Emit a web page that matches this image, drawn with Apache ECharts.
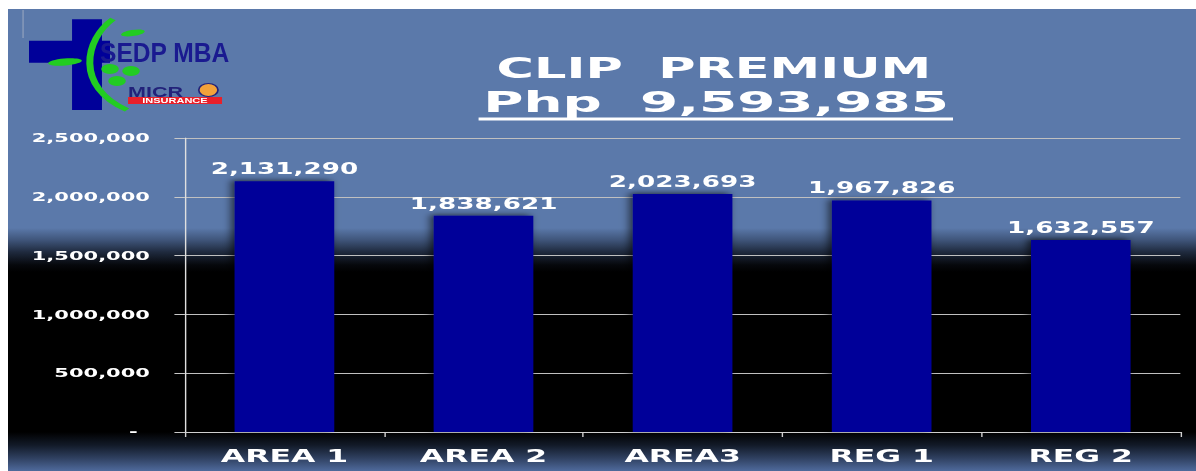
<!DOCTYPE html>
<html><head><meta charset="utf-8">
<script src="https://cdn.jsdelivr.net/npm/echarts@6/dist/echarts.min.js"></script>
<style>
html,body{margin:0;padding:0;background:#fff;overflow:hidden;width:1196px;height:471px}
#c{position:absolute;left:8px;top:9px;width:678.857px;height:462px;transform:scaleX(1.75);transform-origin:0 0;}
</style></head><body><div id="c"></div>
<script>
const categories = ['AREA 1', 'AREA 2', 'AREA3', 'REG 1', 'REG 2'];
const premiums = [2131290, 1838621, 2023693, 1967826, 1632557];
const yMin = 0, yMax = 2500000, yStep = 500000;
const titleLine1 = 'CLIP  PREMIUM';
const titleLine2 = 'Php  9,593,985';

const fmt = v => Number(v).toLocaleString('en-US');
const FONT = 'DejaVu Sans';
const chart = echarts.init(document.getElementById('c'), null, {renderer: 'svg'});

chart.setOption({
  animation: false,
  backgroundColor: {
    type: 'linear', x: 0, y: 0, x2: 0, y2: 1,
    colorStops: [
      {offset: 0, color: '#5b79aa'},
      {offset: 0.474, color: '#5b79aa'},
      {offset: 0.5, color: '#3f557a'},
      {offset: 0.526, color: '#1f2a3e'},
      {offset: 0.554, color: '#06080c'},
      {offset: 0.569, color: '#000000'},
      {offset: 0.9156, color: '#000000'},
      {offset: 0.944, color: '#121a28'},
      {offset: 0.972, color: '#2f4060'},
      {offset: 1, color: '#4f6a9c'}
    ]
  },
  grid: {left: 101.1, right: 9.1, top: 129, bottom: 39, containLabel: false},
  xAxis: {
    type: 'category',
    data: categories,
    axisLine: {show: true, lineStyle: {color: '#d0d0d0', width: 1}},
    axisTick: {show: true, length: 5, alignWithLabel: false, lineStyle: {color: '#d0d0d0', width: 0.8}},
    axisLabel: {color: '#ffffff', fontFamily: FONT, fontWeight: 'bold', fontSize: 18, margin: 15}
  },
  yAxis: {
    type: 'value',
    min: yMin, max: yMax, interval: yStep,
    axisLine: {show: true, lineStyle: {color: '#e0e0e0', width: 0.8}},
    axisTick: {show: true, length: 6, lineStyle: {color: '#c8c8c8', width: 1}},
    splitLine: {show: true, lineStyle: {color: '#c0c0c0', width: 1}},
    axisLabel: {
      color: '#ffffff', fontFamily: FONT, fontWeight: 'bold', fontSize: 12, margin: 20,
      formatter: v => v === 0 ? '{d|-}' : fmt(v),
      rich: {d: {color: '#ffffff', fontFamily: FONT, fontWeight: 'bold', fontSize: 12, padding: [0, 7, 0, 0]}}
    }
  },
  series: [{
    type: 'bar',
    data: premiums,
    barWidth: '50%',
    itemStyle: {color: '#000099', shadowBlur: 5, shadowColor: 'rgba(0,0,0,0.6)', shadowOffsetX: -2, shadowOffsetY: -1},
    label: {
      show: true, position: 'top', distance: 5,
      color: '#ffffff', fontFamily: FONT, fontWeight: 'bold', fontSize: 15,
      formatter: p => fmt(p.value)
    }
  }],
  graphic: [
    {type: 'text', x: 403.4, y: 59, scaleX: 1.04, style: {text: titleLine1, fill: '#ffffff', font: 'bold 28px "DejaVu Sans"', textAlign: 'center', textVerticalAlign: 'middle'}},
    {type: 'text', x: 404.6, y: 93, scaleX: 1.12, style: {text: titleLine2, fill: '#ffffff', font: 'bold 28px "DejaVu Sans"', textAlign: 'center', textVerticalAlign: 'middle'}},
    {type: 'rect', shape: {x: 268.9, y: 108.5, width: 271.1, height: 3}, style: {fill: '#ffffff'}},
    // logo
    {type: 'line', shape: {x1: 8.6, y1: 1, x2: 8.6, y2: 29}, style: {stroke: '#9aa8c0', lineWidth: 0.6}},
    {type: 'rect', shape: {x: 12, y: 31.7, width: 46.3, height: 22}, style: {fill: '#000099'}},
    {type: 'rect', shape: {x: 36.6, y: 10.3, width: 17.1, height: 90.7}, style: {fill: '#000099'}},
    {type: 'bezierCurve', shape: {x1: 60, y1: 10, cpx1: 44, cpy1: 30, cpx2: 38, cpy2: 78, x2: 68, y2: 101}, style: {stroke: '#22cc22', lineWidth: 4, fill: null}},
    {type: 'ellipse', shape: {cx: 32.6, cy: 53, rx: 9.7, ry: 3.5}, rotation: 0.15, originX: 32.6, originY: 53, style: {fill: '#22cc22'}},
    {type: 'ellipse', shape: {cx: 71.4, cy: 24, rx: 7, ry: 3}, rotation: 0.3, originX: 71.4, originY: 24, style: {fill: '#22cc22'}},
    {type: 'circle', shape: {cx: 58.3, cy: 60, r: 5}, style: {fill: '#22cc22'}},
    {type: 'circle', shape: {cx: 70.3, cy: 62, r: 5}, style: {fill: '#22cc22'}},
    {type: 'circle', shape: {cx: 62.3, cy: 72, r: 5}, style: {fill: '#22cc22'}},
    {type: 'text', x: 52.6, y: 44, scaleX: 0.52, style: {text: 'SEDP MBA', fill: '#1a1a90', font: 'bold 27px "Liberation Sans"', textAlign: 'left', textVerticalAlign: 'middle'}},
    {type: 'text', x: 68.6, y: 82.5, scaleX: 0.82, style: {text: 'MICR', fill: '#22227a', font: 'bold 15px "Liberation Sans"', textAlign: 'left', textVerticalAlign: 'middle'}},
    {type: 'ellipse', shape: {cx: 114.5, cy: 81, rx: 5.5, ry: 6.5}, style: {fill: '#f2a23a', stroke: '#22227a', lineWidth: 1}},
    {type: 'rect', shape: {x: 68.6, y: 88, width: 53.7, height: 7}, style: {fill: '#e8202a'}},
    {type: 'text', x: 95.4, y: 91.6, scaleX: 0.9, style: {text: 'INSURANCE', fill: '#ffffff', font: 'bold 7px "Liberation Sans"', textAlign: 'center', textVerticalAlign: 'middle'}}
  ]
});
</script></body></html>
